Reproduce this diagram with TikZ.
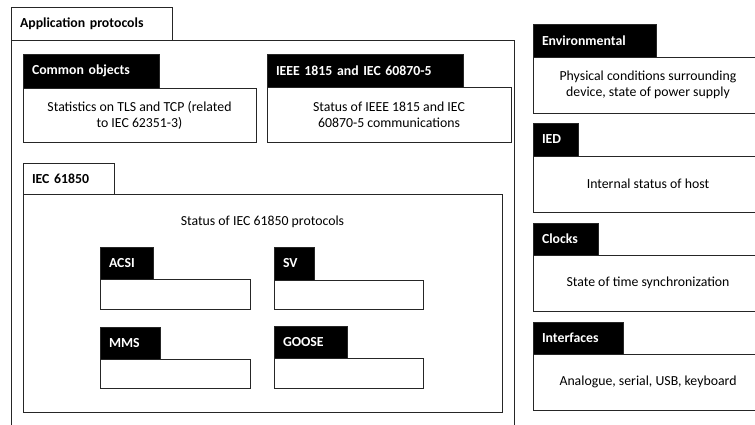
\documentclass[tikz,border=0pt]{standalone}
\usepackage{fontspec}
\setmainfont{Carlito}
\begin{document}
\begin{tikzpicture}[x=1pt,y=-1pt,
  every node/.style={line width=0.7pt, draw=black!85, inner sep=0pt, outer sep=0pt},
  body/.style={fill=white, anchor=north west, align=center,
    font=\fontsize{13.8}{16}\selectfont},
  wtab/.style={fill=white, anchor=north west, align=left, inner xsep=9pt,
    font=\bfseries\fontsize{13.8}{16}\selectfont},
  btab/.style={fill=black, text=white, anchor=north west, align=left, inner xsep=9pt,
    font=\bfseries\fontsize{13.8}{16}\selectfont},
  plain/.style={draw=none, fill=none, align=center, font=\fontsize{13.8}{16}\selectfont}]
\useasboundingbox (0,0) rectangle (755,425);

% Application protocols frame (runs past the lower edge)
\node[body, minimum width=503pt, minimum height=400pt] (appframe) at (11,40) {};
\node[wtab, minimum width=161pt, minimum height=33pt, text width=143pt] (apptab) at (11,7) {Application protocols};

% Common objects
\node[body, minimum width=233pt, minimum height=54pt] (common) at (23,88) {Statistics on TLS and TCP (related\\to IEC 62351-3)};
\node[btab, minimum width=136pt, minimum height=34pt, text width=118pt] (commontab) at (23,54) {Common objects};

% IEEE 1815 and IEC 60870-5
\node[body, minimum width=244pt, minimum height=55pt] (ieee) at (267,87) {Status of IEEE 1815 and IEC\\60870-5 communications};
\node[btab, minimum width=196pt, minimum height=33pt, text width=178pt] (ieeetab) at (267,54) {IEEE 1815 and IEC 60870-5};

% IEC 61850
\node[body, minimum width=479pt, minimum height=218pt] (iec) at (23,194) {};
\node[wtab, minimum width=91pt, minimum height=31pt, text width=73pt] (iectab) at (23,163) {IEC 61850};
\node[plain] (iectext) at (262.5,222) {Status of IEC 61850 protocols};

% IEC 61850 sub-protocols
\node[body, minimum width=150pt, minimum height=30pt] (acsi) at (100,279) {};
\node[btab, minimum width=53pt, minimum height=32pt, text width=35pt] (acsitab) at (100,247) {ACSI};
\node[body, minimum width=150pt, minimum height=29pt] (mms) at (100,359) {};
\node[btab, minimum width=60pt, minimum height=32pt, text width=42pt] (mmstab) at (100,327) {MMS};
\node[body, minimum width=149pt, minimum height=29pt] (sv) at (274,280) {};
\node[btab, minimum width=40pt, minimum height=33pt, text width=22pt] (svtab) at (274,247) {SV};
\node[body, minimum width=149pt, minimum height=30pt] (goose) at (274,358) {};
\node[btab, minimum width=73pt, minimum height=32pt, text width=55pt] (goosetab) at (274,326) {GOOSE};

% Right-hand column (boxes run past the right edge)
\node[body, minimum width=230pt, minimum height=56pt] (env) at (533,57) {Physical conditions surrounding\\device, state of power supply};
\node[btab, minimum width=123pt, minimum height=33pt, text width=105pt] (envtab) at (533,24) {Environmental};

\node[body, minimum width=230pt, minimum height=56pt] (ied) at (533,156) {Internal status of host};
\node[btab, minimum width=45pt, minimum height=33pt, text width=27pt] (iedtab) at (533,123) {IED};

\node[body, minimum width=230pt, minimum height=56pt] (clk) at (533,255) {State of time synchronization};
\node[btab, minimum width=65pt, minimum height=32pt, text width=47pt] (clktab) at (533,223) {Clocks};

\node[body, minimum width=230pt, minimum height=56pt] (intf) at (533,354) {Analogue, serial, USB, keyboard};
\node[btab, minimum width=90pt, minimum height=32pt, text width=72pt] (intftab) at (533,322) {Interfaces};
\end{tikzpicture}
\end{document}
